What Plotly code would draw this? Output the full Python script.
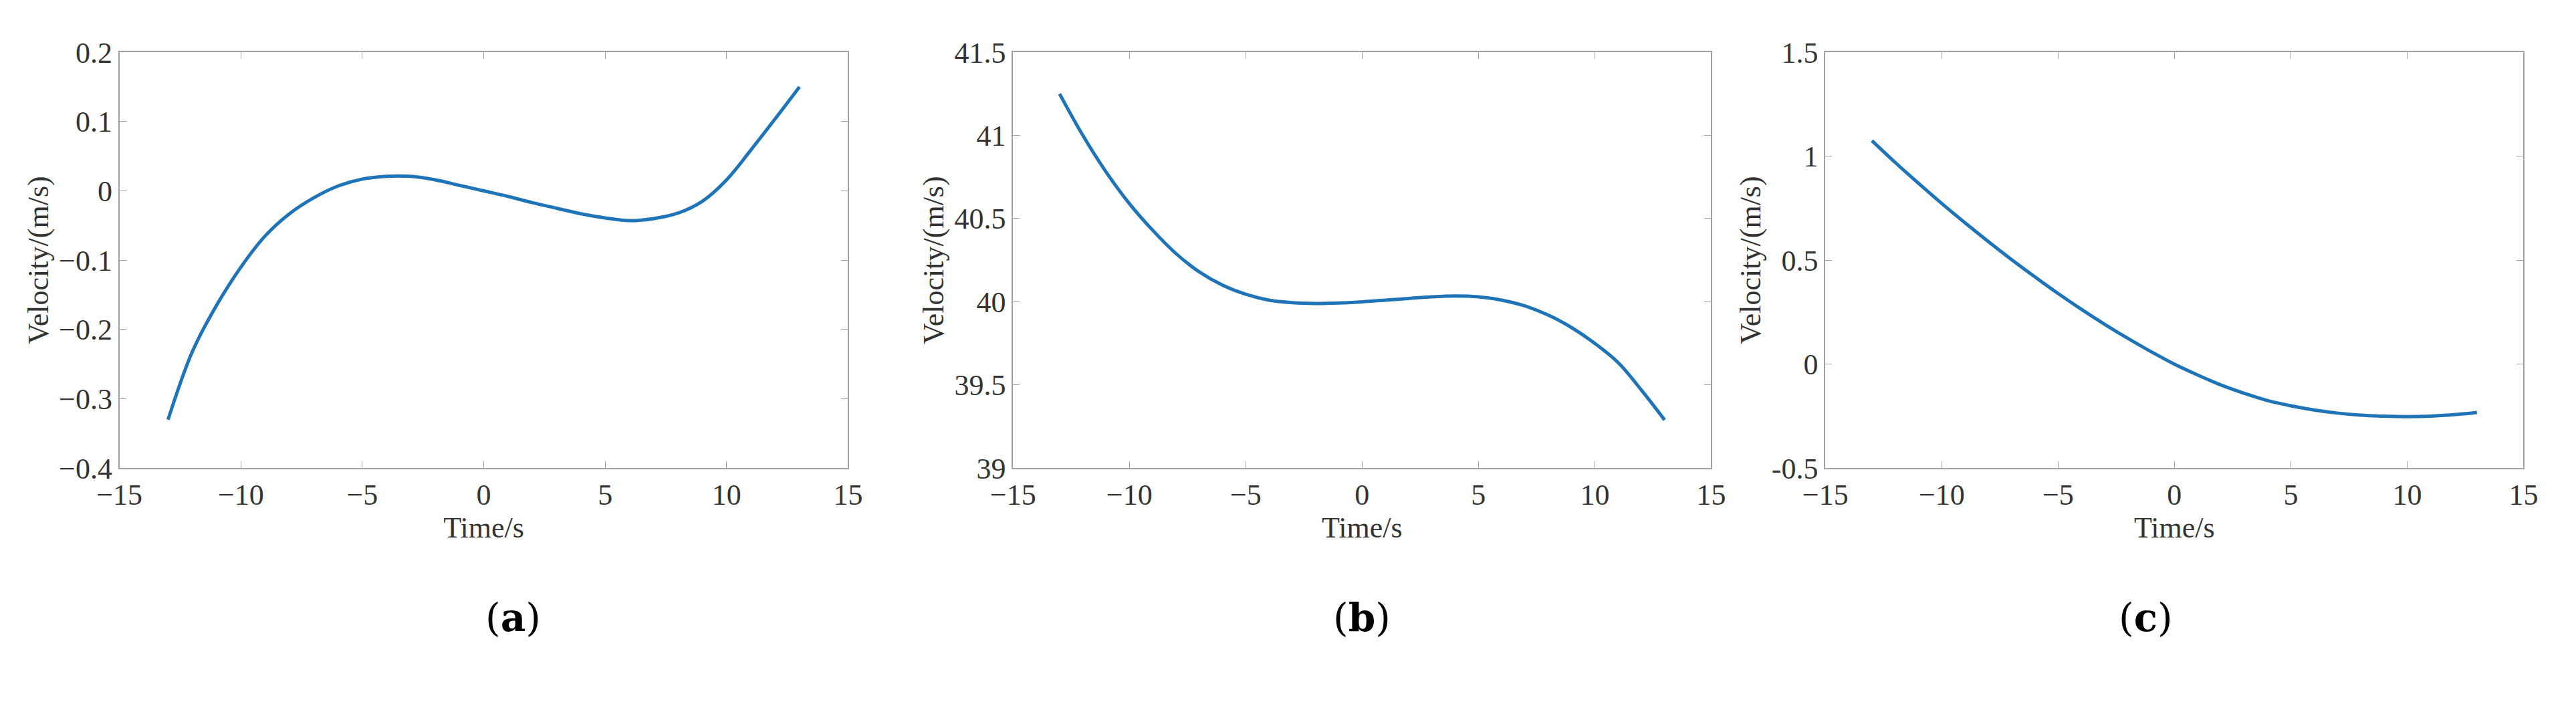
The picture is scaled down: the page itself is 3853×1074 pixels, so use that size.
import plotly.graph_objects as go

time_s = [-13, -12, -11, -10, -9, -8, -7, -6, -5, -4, -3, -2, -1, 0,
          1, 2, 3, 4, 5, 6, 7, 8, 9, 10, 11, 12, 13]

vel_a = [-0.33, -0.232, -0.165, -0.11, -0.065, -0.033, -0.01, 0.007, 0.017, 0.021, 0.021, 0.016, 0.008, 0.0,
         -0.008, -0.017, -0.025, -0.033, -0.039, -0.043, -0.04, -0.032, -0.015, 0.016, 0.059, 0.104, 0.15]
vel_b = [41.25, 41.0, 40.78, 40.59, 40.43, 40.29, 40.18, 40.1, 40.045, 40.01, 39.995, 39.99, 39.993, 40.0,
         40.01, 40.02, 40.03, 40.035, 40.03, 40.01, 39.975, 39.92, 39.845, 39.75, 39.635, 39.47, 39.29]
vel_c = [1.075, 0.97, 0.87, 0.773, 0.68, 0.59, 0.503, 0.42, 0.34, 0.264, 0.192, 0.124, 0.06, 0.0,
         -0.052, -0.1, -0.14, -0.175, -0.2, -0.22, -0.235, -0.245, -0.25, -0.252, -0.25, -0.243, -0.232]

panels = ["a", "b", "c"]
yranges = [[-0.4, 0.2], [39, 41.5], [-0.5, 1.5]]
ytick_vals = [[-0.4, -0.3, -0.2, -0.1, 0, 0.1, 0.2],
              [39, 39.5, 40, 40.5, 41, 41.5],
              [-0.5, 0, 0.5, 1, 1.5]]
ytick_text = [["\u22120.4", "\u22120.3", "\u22120.2", "\u22120.1", "0", "0.1", "0.2"],
              ["39", "39.5", "40", "40.5", "41", "41.5"],
              ["-0.5", "0", "0.5", "1", "1.5"]]
xtick_vals = [-15, -10, -5, 0, 5, 10, 15]
xtick_text = ["\u221215", "\u221210", "\u22125", "0", "5", "10", "15"]

fig = go.Figure()
domains = [[0.036, 0.323], [0.388, 0.663], [0.708, 0.983]]
font = dict(family="Liberation Serif", size=44, color="#333333")

for i, vals in enumerate([vel_a, vel_b, vel_c]):
    n = "" if i == 0 else str(i + 1)
    fig.add_trace(go.Scatter(x=time_s, y=vals, mode="lines", line=dict(color="#1f73b7", width=5, shape="spline"),
                             xaxis="x" + n, yaxis="y" + n, showlegend=False))
    ax = dict(showline=True, mirror="ticks", linecolor="#a0a0a0", linewidth=2, ticks="inside",
              ticklen=10, tickcolor="#a0a0a0", showgrid=False, zeroline=False, tickfont=font)
    fig.layout["xaxis" + n] = dict(ax, domain=domains[i], range=[-15, 15], tickvals=xtick_vals,
                                   ticktext=xtick_text, anchor="y" + n,
                                   title=dict(text="Time/s", font=font, standoff=2))
    fig.layout["yaxis" + n] = dict(ax, domain=[0.348, 0.955], range=yranges[i], tickvals=ytick_vals[i],
                                   ticktext=ytick_text[i], anchor="x" + n,
                                   title=dict(text="Velocity/(m/s)", font=font, standoff=2))
    mid = (domains[i][0] + domains[i][1]) / 2
    fig.add_annotation(text="(<b>%s</b>)" % panels[i], x=mid, y=0.13, xref="paper", yref="paper",
                       showarrow=False, yanchor="middle", font=dict(family="DejaVu Serif", size=58, color="#000000"))

fig.update_layout(width=3853, height=1074, plot_bgcolor="white", paper_bgcolor="white",
                  margin=dict(l=0, r=0, t=0, b=0))
fig.write_html("out.html")
